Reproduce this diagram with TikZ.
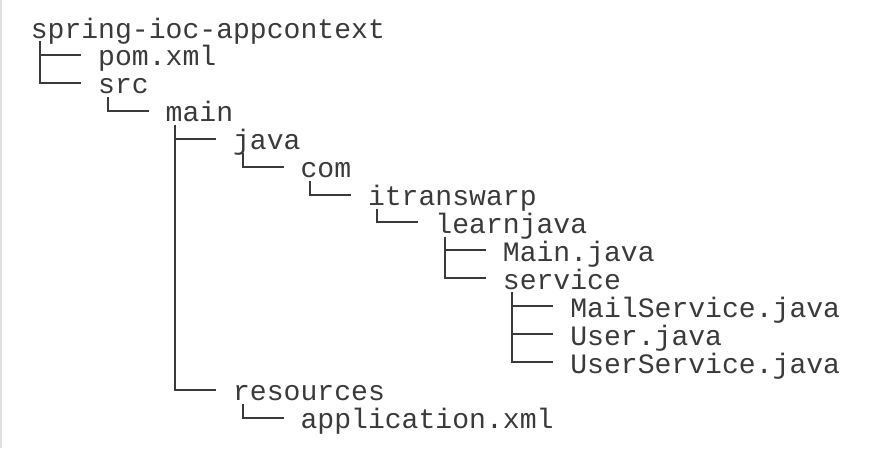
\documentclass[tikz,border=0pt]{standalone}
\usepackage{fontspec}
\newfontfamily\treefont{Liberation Mono}
\definecolor{ink}{RGB}{58,58,58}
\definecolor{strip}{RGB}{224,224,224}
\tikzset{
  entry/.style={anchor=west,inner sep=0pt,text height=25pt,text depth=3pt,
    text=ink,font=\treefont\fontsize{28.1pt}{28.1pt}\selectfont},
  branch/.style={draw=ink,line width=2pt}
}
\begin{document}
\begin{tikzpicture}[x=16.86pt,y=-27.92pt]
  \useasboundingbox (-1.815,-0.967) rectangle (50.26,15.08);
  \fill[strip] (-1.815,-0.967) rectangle (-1.70,15.08);
  \node[entry] (root) at (0,0) {spring-ioc-appcontext};
  \node[entry] (pom) at (4,1) {pom.xml};
  \node[entry] (src) at (4,2) {src};
  \node[entry] (main) at (8,3) {main};
  \node[entry] (java) at (12,4) {java};
  \node[entry] (com) at (16,5) {com};
  \node[entry] (itw) at (20,6) {itranswarp};
  \node[entry] (learn) at (24,7) {learnjava};
  \node[entry] (mainjava) at (28,8) {Main.java};
  \node[entry] (service) at (28,9) {service};
  \node[entry] (mail) at (32,10) {MailService.java};
  \node[entry] (user) at (32,11) {User.java};
  \node[entry] (usersvc) at (32,12) {UserService.java};
  \node[entry] (res) at (12,13) {resources};
  \node[entry] (appxml) at (16,14) {application.xml};
  \foreach \p/\c in {root/pom,root/src,src/main,main/java,main/res,java/com,
      com/itw,itw/learn,learn/mainjava,learn/service,service/mail,
      service/user,service/usersvc,res/appxml}
    \draw[branch] ([xshift=9.6pt]\p.south west) |- ([xshift=-16.86pt]\c.west);
\end{tikzpicture}
\end{document}
